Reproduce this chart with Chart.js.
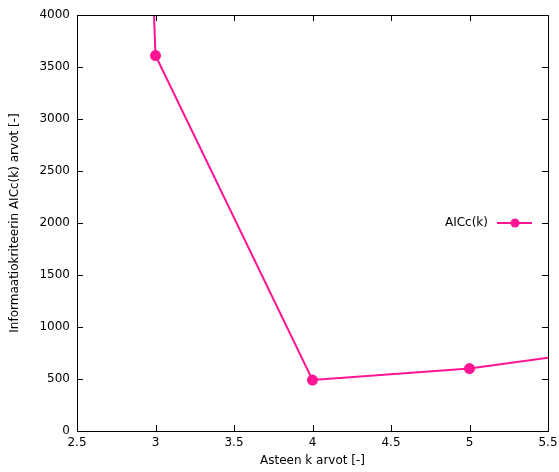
<!DOCTYPE html>
<html>
<head>
<meta charset="utf-8">
<script src="https://cdn.jsdelivr.net/npm/chart.js@4"></script>
<style>
  html, body { margin: 0; padding: 0; background: #fff; }
  #wrap { width: 559px; height: 472px; }
</style>
</head>
<body>
<div id="wrap"><canvas id="c" width="559" height="472"></canvas></div>
<script>
// k-arvot ja AICc(k)
const kValues = [2, 3, 4, 5, 6]
const aiccValues = [45000, 3610, 490, 600, 810]
const xTicks = [2.5, 3, 3.5, 4, 4.5, 5, 5.5]
const yTicks = [0, 500, 1000, 1500, 2000, 2500, 3000, 3500, 4000]

const pink = '#ff1493'
const font = { family: 'DejaVu Sans', size: 12 }

// gnuplot-tyyliset sisäänpäin osoittavat tikit + kehys + legenda
const framePlugin = {
  id: 'frame',
  afterDraw(chart) {
    const { ctx, chartArea: a, scales } = chart
    const len = 6
    ctx.save()
    ctx.strokeStyle = '#000'
    ctx.lineWidth = 1
    ctx.beginPath()
    scales.x.ticks.forEach(t => {
      const px = Math.round(scales.x.getPixelForValue(t.value)) + 0.5
      ctx.moveTo(px, a.bottom); ctx.lineTo(px, a.bottom - len)
      ctx.moveTo(px, a.top); ctx.lineTo(px, a.top + len)
    })
    scales.y.ticks.forEach(t => {
      const py = Math.round(scales.y.getPixelForValue(t.value)) + 0.5
      ctx.moveTo(a.left, py); ctx.lineTo(a.left + len, py)
      ctx.moveTo(a.right, py); ctx.lineTo(a.right - len, py)
    })
    ctx.stroke()
    ctx.strokeRect(Math.round(a.left) + 0.5, Math.round(a.top) + 0.5,
      Math.round(a.right - a.left), Math.round(a.bottom - a.top))

    // legenda
    const ds = chart.data.datasets[0]
    const ly = scales.y.getPixelForValue(2000)
    ctx.font = '12px DejaVu Sans'
    ctx.fillStyle = '#000'
    ctx.textAlign = 'right'
    ctx.textBaseline = 'middle'
    ctx.fillText(ds.label, a.right - 60, ly)
    ctx.strokeStyle = pink
    ctx.lineWidth = 2
    ctx.beginPath()
    ctx.moveTo(a.right - 51, ly); ctx.lineTo(a.right - 16, ly)
    ctx.stroke()
    ctx.fillStyle = pink
    ctx.beginPath()
    ctx.arc(a.right - 33, ly, 4.5, 0, Math.PI * 2)
    ctx.fill()
    ctx.restore()
  }
}

new Chart(document.getElementById('c'), {
  type: 'line',
  data: {
    datasets: [{
      label: 'AICc(k)',
      data: kValues.map((k, i) => ({ x: k, y: aiccValues[i] })),
      borderColor: pink,
      backgroundColor: pink,
      borderWidth: 2,
      pointRadius: 4.5,
      pointHoverRadius: 4.5,
      tension: 0
    }]
  },
  options: {
    responsive: false,
    animation: false,
    layout: { padding: { top: 15, right: 11, left: 4, bottom: 0 } },
    plugins: { legend: { display: false }, tooltip: { enabled: false } },
    scales: {
      x: {
        type: 'linear',
        min: 2.5, max: 5.5,
        afterBuildTicks: s => { s.ticks = xTicks.map(v => ({ value: v })) },
        afterFit: s => { s.height = 41; s.paddingLeft = 0; s.paddingRight = 0 },
        grid: { display: false, drawTicks: false },
        border: { display: false },
        ticks: { color: '#000', font, padding: 5, maxRotation: 0, callback: v => String(v) },
        title: { display: true, text: 'Asteen k arvot [-]', color: '#000', font, padding: { top: 2, bottom: 4 } }
      },
      y: {
        min: 0, max: 4000,
        afterBuildTicks: s => { s.ticks = yTicks.map(v => ({ value: v })) },
        afterFit: s => { s.width = 73; s.paddingTop = 0; s.paddingBottom = 0 },
        grid: { display: false, drawTicks: false },
        border: { display: false },
        ticks: { color: '#000', font, padding: 7, callback: v => String(v) },
        title: { display: true, text: 'Informaatiokriteerin AICc(k) arvot [-]', color: '#000', font, padding: { top: 4, bottom: 4 } }
      }
    }
  },
  plugins: [framePlugin]
})
</script>
</body>
</html>
